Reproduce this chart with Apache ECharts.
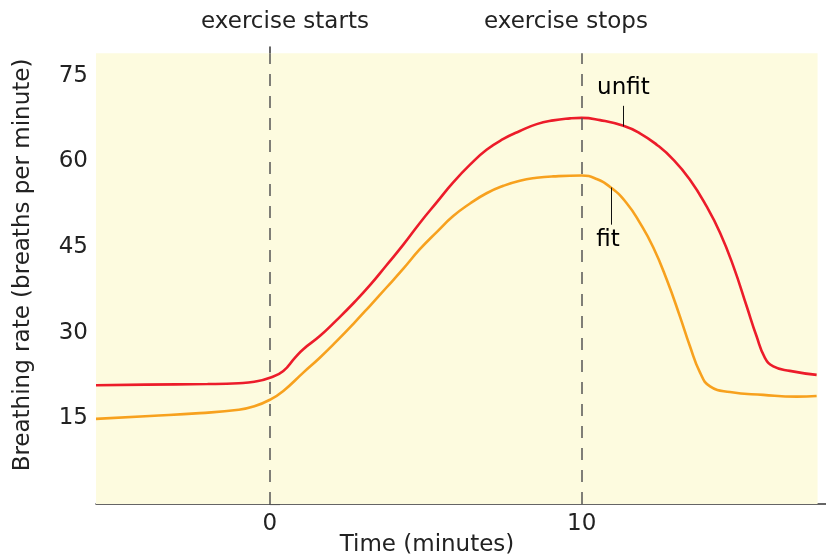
<!DOCTYPE html>
<html>
<head>
<meta charset="utf-8">
<script src="https://cdn.jsdelivr.net/npm/echarts@6/dist/echarts.min.js"></script>
<style>
html,body{margin:0;padding:0;background:#fff;}
#chart{width:826px;height:558px;}
</style>
</head>
<body>
<div id="chart"></div>
<script>
// ---- data ----
const unfitTime = [-5.58, -4, -2, -1, -0.5, 0, 0.43, 0.8, 1.07, 1.6, 2.14, 2.67, 3.21, 3.74, 4.28, 4.81, 5.35, 5.88, 6.42, 6.95, 7.49, 8.02, 8.56, 9.09, 9.63, 10.0, 10.59, 11.34, 11.87, 12.41, 12.94, 13.47, 14.01, 14.44, 14.87, 15.29, 15.61, 15.88, 16.15, 16.68, 17.54];
const unfitRate = [20.8, 20.9, 21.0, 21.15, 21.4, 22.1, 23.3, 25.6, 27.1, 29.4, 32.2, 35.1, 38.3, 41.8, 45.4, 49.2, 52.8, 56.3, 59.4, 62.0, 63.9, 65.3, 66.5, 67.15, 67.5, 67.6, 67.2, 66.2, 64.9, 62.9, 60.3, 56.8, 52.1, 47.5, 41.6, 34.7, 29.4, 25.6, 24.1, 23.3, 22.6];
const fitTime = [-5.58, -3.85, -2.25, -1, -0.5, 0, 0.43, 1.07, 1.6, 2.14, 2.67, 3.21, 3.74, 4.28, 4.81, 5.35, 5.88, 6.42, 6.95, 7.49, 8.02, 8.56, 9.09, 10.0, 10.48, 10.96, 11.44, 11.87, 12.3, 12.73, 13.15, 13.47, 13.8, 14.12, 14.76, 15.83, 16.9, 17.54];
const fitRate = [14.9, 15.4, 15.9, 16.5, 17.1, 18.25, 19.8, 23.0, 25.6, 28.5, 31.5, 34.7, 37.9, 41.2, 44.6, 47.6, 50.4, 52.6, 54.4, 55.7, 56.6, 57.1, 57.35, 57.5, 56.9, 55.3, 52.7, 49.2, 44.9, 39.3, 32.9, 27.7, 23.0, 20.6, 19.6, 19.1, 18.8, 18.9];
const yTickValues = [0, 15, 30, 45, 60, 75];
const yLabelValues = [15, 30, 45, 60, 75];
const xLabelValues = [0, 10];
const eventTimes = [0, 10];
const eventLabels = ['exercise starts', 'exercise stops'];
const seriesNames = ['unfit', 'fit'];
const xRange = [-5.58, 17.84];
const yRange = [0, 80];
const bgExtent = [[-5.58, 0], [17.57, 78.9]];
const unfitLeader = [[11.34, 66.1], [11.34, 69.7]];
const fitLeader = [[10.94, 55.4], [10.94, 48.9]];
const xTitle = 'Time (minutes)';
const yTitle = 'Breathing rate (breaths per minute)';

const FONT = 'DejaVu Sans';
const chart = echarts.init(document.getElementById('chart'), null, {renderer: 'canvas'});

const zip = (a, b) => a.map((v, i) => [v, b[i]]);

const option = {
  animation: false,
  backgroundColor: '#ffffff',
  grid: {left: 96, right: 0, top: 47, bottom: 54, containLabel: false},
  xAxis: {
    type: 'value', min: xRange[0], max: xRange[1],
    axisLine: {show: true, onZero: false, lineStyle: {color: '#333', width: 1.5}},
    axisTick: {show: false},
    splitLine: {show: false},
    axisLabel: {customValues: xLabelValues, fontSize: 23, fontFamily: FONT, color: '#222', margin: 9}
  },
  yAxis: {
    type: 'value', min: yRange[0], max: yRange[1],
    axisLine: {show: true, lineStyle: {color: '#333', width: 1.5}},
    axisTick: {show: true, inside: true, length: 10, customValues: yTickValues, lineStyle: {color: '#555', width: 1.2}},
    splitLine: {show: false},
    axisLabel: {customValues: yLabelValues, fontSize: 23, fontFamily: FONT, color: '#222', margin: 8}
  },
  graphic: [
    {type: 'text', x: 285, y: 22, style: {text: eventLabels[0], font: '23px "DejaVu Sans"', fill: '#222', textAlign: 'center', textVerticalAlign: 'middle'}},
    {type: 'text', x: 566, y: 22, style: {text: eventLabels[1], font: '23px "DejaVu Sans"', fill: '#222', textAlign: 'center', textVerticalAlign: 'middle'}},
    {type: 'text', x: 427, y: 545, style: {text: xTitle, font: '23px "DejaVu Sans"', fill: '#222', textAlign: 'center', textVerticalAlign: 'middle'}},
    {type: 'text', x: 23, y: 265, rotation: Math.PI / 2, style: {text: yTitle, font: '23px "DejaVu Sans"', fill: '#222', textAlign: 'center', textVerticalAlign: 'middle'}}
  ],
  series: [
    {
      type: 'line', name: 'bg', data: [], z: 1, silent: true,
      markArea: {silent: true, itemStyle: {color: '#fdfbdf'}, data: [[{coord: bgExtent[0]}, {coord: bgExtent[1]}]]},
      markLine: {
        silent: true, symbol: ['none', 'none'],
        lineStyle: {color: '#555', width: 1.5, type: [12, 10]},
        label: {show: false},
        data: eventTimes.map(t => [{coord: [t, bgExtent[0][1]]}, {coord: [t, bgExtent[1][1]]}])
      }
    },
    {
      type: 'line', name: seriesNames[0], data: zip(unfitTime, unfitRate), z: 3,
      smooth: 0.5, showSymbol: false, symbol: 'none',
      lineStyle: {color: '#ec1c2a', width: 2.6},
      markLine: {
        silent: true, symbol: ['none', 'none'],
        lineStyle: {color: '#111', width: 1, type: 'solid'},
        label: {show: true, position: 'end', formatter: seriesNames[0], fontSize: 23, fontFamily: FONT, color: '#000', distance: 6},
        data: [[{coord: unfitLeader[0]}, {coord: unfitLeader[1]}]]
      }
    },
    {
      type: 'line', name: seriesNames[1], data: zip(fitTime, fitRate), z: 3,
      smooth: 0.5, showSymbol: false, symbol: 'none',
      lineStyle: {color: '#f7a11e', width: 2.6},
      markLine: {
        silent: true, symbol: ['none', 'none'],
        lineStyle: {color: '#111', width: 1, type: 'solid'},
        label: {show: true, position: 'end', formatter: seriesNames[1], fontSize: 23, fontFamily: FONT, color: '#000', distance: 4, offset: [-3, 0]},
        data: [[{coord: fitLeader[0]}, {coord: fitLeader[1]}]]
      }
    }
  ]
};
chart.setOption(option);
</script>
</body>
</html>
